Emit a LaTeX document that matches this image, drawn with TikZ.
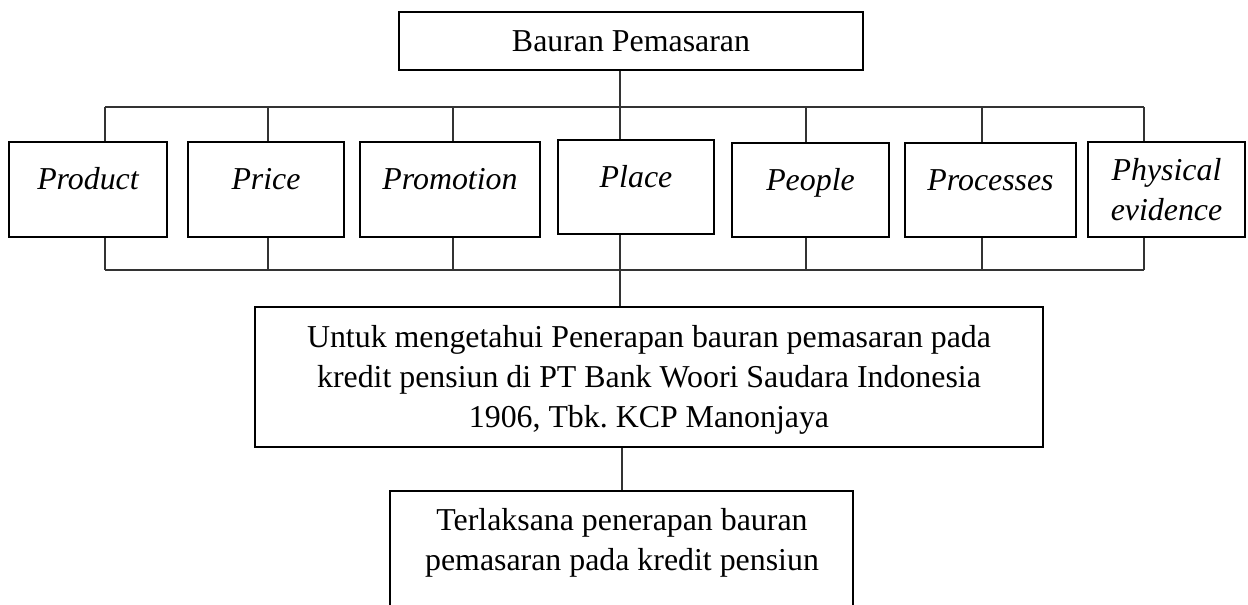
\documentclass[tikz,border=0pt]{standalone}
\usepackage{fontspec}
\setmainfont{Liberation Serif}
\frenchspacing
\begin{document}
\begin{tikzpicture}[x=0.75pt,y=-0.75pt,
  txt/.style={font=\fontsize{23.9pt}{30pt}\selectfont},
  box/.style={draw=black, line width=1.5pt, inner sep=0pt, txt, fill=white},
  item/.style={box, font=\fontsize{23.9pt}{30pt}\selectfont\itshape, text height=14pt, text depth=14pt, minimum height=71.25pt},
  link/.style={draw=black!80, line width=0.8pt}
]
\useasboundingbox (0,0) rectangle (1248,604);
\fill[white] (0,0) rectangle (1248,604);

% top
\node[box, minimum width=348pt, minimum height=43.5pt] (top) at (631,41) {Bauran Pemasaran};

% items
\node[item, minimum width=118.5pt] (prod) at (88,189.5) {Product};
\node[item, minimum width=117pt] (price) at (266,189.5) {Price};
\node[item, minimum width=135pt] (promo) at (450,189.5) {Promotion};
\node[item, minimum width=117pt, minimum height=70.5pt] (place) at (636,187) {Place};
\node[item, minimum width=117.75pt, minimum height=70.5pt] (people) at (810.5,190) {People};
\node[item, minimum width=128.25pt, minimum height=70.5pt] (proc) at (990.5,190) {Processes};
\node[box, font=\fontsize{23.9pt}{30pt}\selectfont\itshape, align=center, minimum width=117.75pt, minimum height=71.25pt] (phys) at (1166.5,189.5) {Physical\\evidence};

% bus coordinates
\coordinate (t1) at (105,107);  \coordinate (b1) at (105,270);
\coordinate (t2) at (268,107);  \coordinate (b2) at (268,270);
\coordinate (t3) at (453,107);  \coordinate (b3) at (453,270);
\coordinate (t4) at (620,107);  \coordinate (b4) at (620,270);
\coordinate (t5) at (806,107);  \coordinate (b5) at (806,270);
\coordinate (t6) at (982,107);  \coordinate (b6) at (982,270);
\coordinate (t7) at (1144,107); \coordinate (b7) at (1144,270);
\coordinate (m2) at (622,447);

% main box
\node[box, minimum width=591pt, minimum height=105pt] (main) at (649,377) {};
\node[txt, align=center, inner sep=0pt] (maintxt) at (649,379.5)
  {Untuk mengetahui Penerapan bauran pemasaran pada\\kredit pensiun di PT Bank Woori Saudara Indonesia\\1906, Tbk. KCP Manonjaya};

% connectors
\draw[link] (top.south -| t4) -- (place.north -| t4);
\draw[link] (t1) -- (t7);
\draw[link] (b1) -- (b7);
\draw[link] (t1) -- (prod.north -| t1);
\draw[link] (t2) -- (price.north -| t2);
\draw[link] (t3) -- (promo.north -| t3);
\draw[link] (t5) -- (people.north -| t5);
\draw[link] (t6) -- (proc.north -| t6);
\draw[link] (t7) -- (phys.north -| t7);
\draw[link] (prod.south -| b1) -- (b1);
\draw[link] (price.south -| b2) -- (b2);
\draw[link] (promo.south -| b3) -- (b3);
\draw[link] (place.south -| b4) -- (main.north -| b4);
\draw[link] (people.south -| b5) -- (b5);
\draw[link] (proc.south -| b6) -- (b6);
\draw[link] (phys.south -| b7) -- (b7);

% bottom box (cut off by the page edge)
\begin{scope}
\clip (0,0) rectangle (1248,604);
\node[box, minimum width=347.25pt, minimum height=120pt] (bot) at (621.5,571) {};
\end{scope}
\draw[link] (main.south -| m2) -- (bot.north -| m2);
\node[txt, align=center, anchor=north, inner sep=0pt] (bottxt) at (622,508)
  {Terlaksana penerapan bauran\\pemasaran pada kredit pensiun};
\end{tikzpicture}
\end{document}
